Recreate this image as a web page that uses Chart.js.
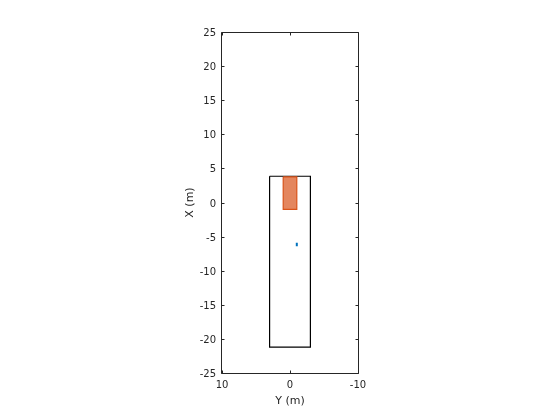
<!DOCTYPE html>
<html>
<head>
<meta charset="utf-8">
<script src="https://cdn.jsdelivr.net/npm/chart.js@4/dist/chart.umd.min.js"></script>
<style>
html,body{margin:0;padding:0;background:#fff;}
canvas{display:block;}
</style>
</head>
<body>
<canvas id="c" width="560" height="420"></canvas>
<script>
// Data (horizontal axis = Y (m), vertical axis = X (m))
const boundaryY = [3.0, -3.0, -3.0, 3.0, 3.0];
const boundaryX = [3.85, 3.85, -21.2, -21.2, 3.85];
const vehicleY = [1.0, -1.0, -1.0, 1.0, 1.0];
const vehicleX = [3.75, 3.75, -1.0, -1.0, 3.75];
const markY = [-1.0, -1.0];
const markX = [-5.9, -6.4];
const xTicks = [10, 0, -10];
const yTicks = [-25, -20, -15, -10, -5, 0, 5, 10, 15, 20, 25];

const toPts = (ys, xs) => ys.map((v, i) => ({x: v, y: xs[i]}));

const boxPlugin = {
  id: 'box',
  afterDatasetsDraw(chart) {
    const {ctx, chartArea: a, scales} = chart;
    ctx.save();
    ctx.strokeStyle = '#262626';
    ctx.lineWidth = 1;
    const L = Math.round(a.left) - 0.5, R = Math.round(a.right) + 0.5;
    const T = Math.round(a.top) + 0.5, B = Math.round(a.bottom) + 0.5;
    ctx.beginPath();
    ctx.rect(L, T, R - L, B - T);
    const tl = 3;
    xTicks.forEach(v => {
      const p = Math.round(scales.x.getPixelForValue(v)) + 0.5;
      ctx.moveTo(p, B); ctx.lineTo(p, B - tl);
      ctx.moveTo(p, T); ctx.lineTo(p, T + tl);
    });
    yTicks.forEach(v => {
      const p = Math.round(scales.y.getPixelForValue(v)) + 0.5;
      ctx.moveTo(L, p); ctx.lineTo(L + tl, p);
      ctx.moveTo(R, p); ctx.lineTo(R - tl, p);
    });
    ctx.stroke();
    ctx.restore();
  }
};

const font = {family: 'DejaVu Sans', size: 10};
new Chart(document.getElementById('c'), {
  type: 'scatter',
  data: {
    datasets: [
      {data: toPts(markY, markX), showLine: true, borderColor: '#0072BD', borderWidth: 2, pointRadius: 0, fill: false, order: 0},
      {data: toPts(vehicleY, vehicleX), showLine: true, borderColor: '#D95319', backgroundColor: 'rgba(217,83,25,0.7)', borderWidth: 1.2, pointRadius: 0, fill: 'shape', order: 1, tension: 0, borderJoinStyle: 'miter'},
      {data: toPts(boundaryY, boundaryX), showLine: true, borderColor: '#000000', borderWidth: 1.2, pointRadius: 0, fill: false, order: 2, tension: 0, borderJoinStyle: 'miter'}
    ]
  },
  options: {
    responsive: false,
    animation: false,
    events: [],
    layout: {padding: {left: 182, right: 202, top: 32, bottom: 0}},
    plugins: {legend: {display: false}, tooltip: {enabled: false}},
    scales: {
      x: {
        type: 'linear', position: 'bottom', min: -10, max: 10, reverse: true,
        grid: {display: false, drawTicks: false}, border: {display: false},
        ticks: {stepSize: 10, font: font, color: '#262626', padding: 6, maxRotation: 0},
        title: {display: true, text: 'Y (m)', font: {family: 'DejaVu Sans', size: 11}, color: '#262626', padding: {top: 0, bottom: 12}},
        afterFit(s) { s.height = 47; }
      },
      y: {
        type: 'linear', position: 'left', min: -25, max: 25,
        grid: {display: false, drawTicks: false}, border: {display: false},
        ticks: {stepSize: 5, font: font, color: '#262626', padding: 6, labelOffset: 1.5},
        title: {display: true, text: 'X (m)', font: {family: 'DejaVu Sans', size: 11}, color: '#262626', padding: {top: 2, bottom: 0}},
        afterFit(s) { s.width = 40; }
      }
    }
  },
  plugins: [boxPlugin]
});
</script>
</body>
</html>
